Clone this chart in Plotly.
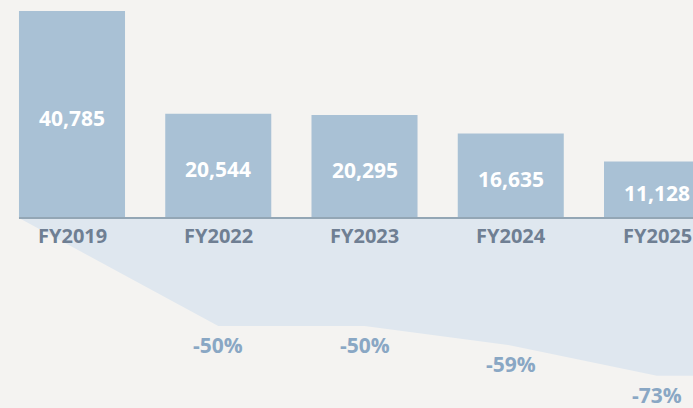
import plotly.graph_objects as go

categories = ["FY2019", "FY2022", "FY2023", "FY2024", "FY2025"]
values = [40785, 20544, 20295, 16635, 11128]

base = values[0]
pct_change = [round((v - base) / base * 100) for v in values]
xs = list(range(len(categories)))

BAR_COLOR = "#a9c1d5"
AREA_COLOR = "#dfe7ef"
CAT_COLOR = "#6f7f93"
PCT_COLOR = "#89a7c4"
BG = "#f4f3f1"
FONT = "Open Sans"
BAR_W = 0.725

X_RANGE = [-0.4923, 4.246]
Y_RANGE = [-37435, 42952]
Y2_RANGE = [-87.96, 100.93]

fig = go.Figure()

# lower "decline" area (percent scale)
x_start = -BAR_W / 2
x_end = X_RANGE[1] + 0.3
poly_x = [x_start, x_end, x_end] + xs[::-1]
poly_y = [0, 0, pct_change[-1]] + pct_change[::-1]
poly_y[-1] = 0
poly_x[-1] = x_start
fig.add_trace(go.Scatter(
    x=poly_x, y=poly_y, yaxis="y2", mode="lines", fill="toself",
    fillcolor=AREA_COLOR, line=dict(width=0), hoverinfo="skip", showlegend=False,
))

fig.add_trace(go.Bar(
    x=xs, y=values, width=BAR_W, marker=dict(color=BAR_COLOR, line=dict(width=0)),
    showlegend=False, hoverinfo="skip",
))

annotations = []
for i, v in zip(xs, values):
    annotations.append(dict(
        x=i, y=v / 2, xref="x", yref="y", text=f"<b>{v:,}</b>", showarrow=False,
        yshift=-3, font=dict(family=FONT, size=21, color="white"),
    ))
for i, c in zip(xs, categories):
    annotations.append(dict(
        x=i, y=0, xref="x", yref="y", text=f"<b>{c}</b>", showarrow=False, yanchor="middle",
        yshift=-17, font=dict(family=FONT, size=20, color=CAT_COLOR),
    ))
for i, p in zip(xs[1:], pct_change[1:]):
    annotations.append(dict(
        x=i, y=p, xref="x", yref="y2", text=f"<b>{p}%</b>", showarrow=False, yanchor="middle",
        yshift=-19, font=dict(family=FONT, size=21, color=PCT_COLOR),
    ))

fig.add_shape(type="line", xref="x", yref="y", x0=x_start, x1=X_RANGE[1] + 0.5,
              y0=0, y1=0, line=dict(color="#93a6b5", width=2), layer="above")

fig.update_layout(
    width=693, height=408,
    margin=dict(l=0, r=0, t=0, b=0),
    paper_bgcolor=BG, plot_bgcolor=BG,
    xaxis=dict(range=X_RANGE, visible=False, fixedrange=True),
    yaxis=dict(range=Y_RANGE, visible=False, fixedrange=True),
    yaxis2=dict(range=Y2_RANGE, visible=False, overlaying="y", fixedrange=True),
    annotations=annotations,
    showlegend=False,
)

fig.write_html(
    "out.html",
    config={"displayModeBar": False},
    post_script="document.body.style.margin='0';document.body.style.background='%s';" % BG,
)
